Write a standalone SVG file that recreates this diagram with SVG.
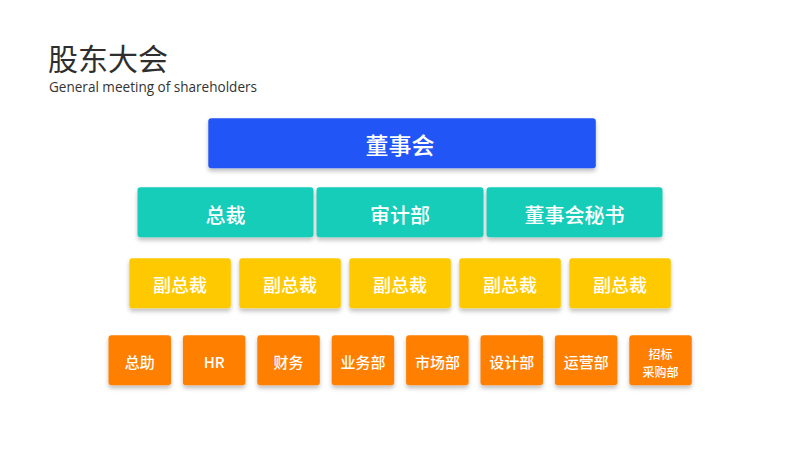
<svg xmlns="http://www.w3.org/2000/svg" width="800" height="450" viewBox="0 0 800 450">
<defs>
<filter id="sh" x="-20%" y="-30%" width="140%" height="180%">
<feDropShadow dx="0" dy="3" stdDeviation="2" flood-color="#000" flood-opacity="0.25"/>
</filter>
<style>
.cjk{font-family:"Noto Sans CJK SC","Noto Sans",sans-serif;}
.lbl{font-family:"Noto Sans CJK SC","Noto Sans",sans-serif;fill:#fff;text-anchor:middle;dominant-baseline:central;font-weight:500;}
.blue{fill:#2355F5;filter:url(#sh);}
.teal{fill:#13CDB9;filter:url(#sh);}
.yel{fill:#FFC900;filter:url(#sh);}
.org{fill:#FF7F00;filter:url(#sh);}
</style>
</defs>
<rect width="800" height="450" fill="#fff"/>
<g id="title">
<text x="48" y="69.5" class="cjk" font-size="30" fill="#2e2e2e">股东大会</text>
<text x="49" y="92" font-family="Open Sans, Liberation Sans, sans-serif" font-size="14" fill="#333" textLength="208" lengthAdjust="spacingAndGlyphs">General meeting of shareholders</text>
</g>
<g id="connectors"/>
<g id="board"><rect class="blue" x="208.3" y="118.3" width="387.5" height="50" rx="3"/><text class="lbl" x="400" y="144" font-size="23">董事会</text></g>
<g id="ceo"><rect class="teal" x="137.5" y="187.3" width="176" height="50" rx="3"/><text class="lbl" x="225.5" y="214" font-size="20">总裁</text></g>
<g id="audit"><rect class="teal" x="316.5" y="187.3" width="167" height="50" rx="3"/><text class="lbl" x="400" y="214" font-size="20">审计部</text></g>
<g id="secretary"><rect class="teal" x="486.5" y="187.3" width="176" height="50" rx="3"/><text class="lbl" x="574.5" y="214" font-size="20">董事会秘书</text></g>
<g id="vp1"><rect class="yel" x="129.3" y="258.3" width="101.5" height="50" rx="3"/><text class="lbl" x="180" y="284" font-size="18">副总裁</text></g>
<g id="vp2"><rect class="yel" x="239.3" y="258.3" width="101.5" height="50" rx="3"/><text class="lbl" x="290" y="284" font-size="18">副总裁</text></g>
<g id="vp3"><rect class="yel" x="349.3" y="258.3" width="101.5" height="50" rx="3"/><text class="lbl" x="400" y="284" font-size="18">副总裁</text></g>
<g id="vp4"><rect class="yel" x="459.3" y="258.3" width="101.5" height="50" rx="3"/><text class="lbl" x="510" y="284" font-size="18">副总裁</text></g>
<g id="vp5"><rect class="yel" x="569.3" y="258.3" width="101.5" height="50" rx="3"/><text class="lbl" x="620" y="284" font-size="18">副总裁</text></g>
<g id="d1"><rect class="org" x="108.5" y="335.3" width="62.5" height="50" rx="3"/><text class="lbl" x="139.8" y="361" font-size="15">总助</text></g>
<g id="d2"><rect class="org" x="182.9" y="335.3" width="62.5" height="50" rx="3"/><text class="lbl" x="214.2" y="361" font-size="15">HR</text></g>
<g id="d3"><rect class="org" x="257.3" y="335.3" width="62.5" height="50" rx="3"/><text class="lbl" x="288.6" y="361" font-size="15">财务</text></g>
<g id="d4"><rect class="org" x="331.7" y="335.3" width="62.5" height="50" rx="3"/><text class="lbl" x="363" y="361" font-size="15">业务部</text></g>
<g id="d5"><rect class="org" x="406.1" y="335.3" width="62.5" height="50" rx="3"/><text class="lbl" x="437.4" y="361" font-size="15">市场部</text></g>
<g id="d6"><rect class="org" x="480.5" y="335.3" width="62.5" height="50" rx="3"/><text class="lbl" x="511.8" y="361" font-size="15">设计部</text></g>
<g id="d7"><rect class="org" x="554.9" y="335.3" width="62.5" height="50" rx="3"/><text class="lbl" x="586.2" y="361" font-size="15">运营部</text></g>
<g id="d8"><rect class="org" x="629.3" y="335.3" width="62.5" height="50" rx="3"/><text class="lbl" font-size="12"><tspan x="660.6" y="353">招标</tspan><tspan x="660.6" y="371">采购部</tspan></text></g>
</svg>
